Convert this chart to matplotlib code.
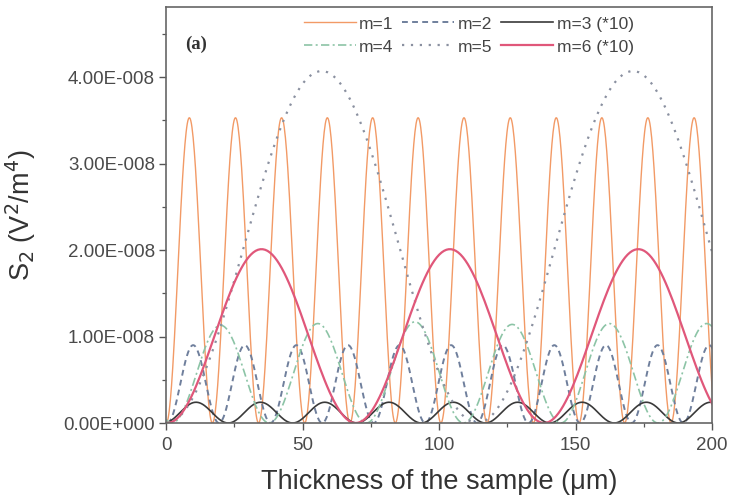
import numpy as np
import matplotlib
matplotlib.use("Agg")
import matplotlib.pyplot as plt
from matplotlib.ticker import MultipleLocator, FixedLocator, FixedFormatter

plt.rcParams['font.family'] = ['Liberation Sans', 'DejaVu Sans']

# ---- data: zero positions (x, um) and lobe peak heights (V^2/m^4)
m1_zeros = [0.1, 17.0, 33.9, 50.8, 67.4, 84.0, 100.7, 117.6, 134.6, 151.3, 168.0, 185.0, 201.9]
m1_peaks = [3.53e-8, 3.53e-8, 3.53e-8, 3.53e-8, 3.53e-8, 3.53e-8,
            3.53e-8, 3.53e-8, 3.53e-8, 3.53e-8, 3.53e-8, 3.53e-8]

m2_zeros = [0.5, 19.4, 38.3, 57.2, 76.1, 95.0, 113.9, 132.8, 151.7, 170.6, 189.5, 208.4]
m2_peaks = [0.90e-8, 0.90e-8, 0.90e-8, 0.90e-8, 0.90e-8, 0.90e-8,
            0.90e-8, 0.90e-8, 0.90e-8, 0.90e-8, 0.90e-8]

m3_zeros = [-0.8, 22.8, 46.4, 69.9, 93.5, 117.0, 140.6, 164.2, 187.7, 211.3]
m3_peaks = [0.24e-8, 0.24e-8, 0.24e-8, 0.24e-8, 0.24e-8, 0.24e-8, 0.24e-8, 0.24e-8, 0.24e-8]

m4_zeros = [-33.4, 2.2, 37.8, 73.4, 109.0, 144.6, 180.2, 215.8]
m4_peaks = [1.15e-8, 1.13e-8, 1.15e-8, 1.17e-8, 1.14e-8, 1.15e-8, 1.15e-8]

m5_zeros = [0.0, 114.0, 228.0]
m5_peaks = [4.07e-8, 4.07e-8]

m6_zeros = [0.5, 69.5, 138.5, 207.5]
m6_peaks = [2.01e-8, 2.01e-8, 2.01e-8]

labels = ["m=1", "m=2", "m=3 (*10)", "m=4", "m=5", "m=6 (*10)"]
ytick_vals = [0.0, 1e-8, 2e-8, 3e-8, 4e-8]
ytick_labels = ["0.00E+000", "1.00E-008", "2.00E-008", "3.00E-008", "4.00E-008"]
xtick_vals = [0, 50, 100, 150, 200]


def lobes(zeros, peaks, n=80):
    xs, ys = [], []
    for z0, z1, h in zip(zeros[:-1], zeros[1:], peaks):
        x = np.linspace(z0, z1, n)
        xs.append(x)
        ys.append(h * np.sin(np.pi * (x - z0) / (z1 - z0)) ** 2)
    return np.concatenate(xs), np.concatenate(ys)


fig = plt.figure(figsize=(7.3, 4.99), dpi=100)
ax = fig.add_axes([166 / 730, 1 - 423 / 499, (712 - 166) / 730, (423 - 7) / 499])

styles = [
    dict(color="#f29a66", lw=1.0, ls="-"),
    dict(color="#6f7f9c", lw=1.4, ls=(0, (3.0, 2.2))),
    dict(color="#3a3a3a", lw=1.2, ls="-"),
    dict(color="#8cc4a6", lw=1.2, ls=(0, (5, 2, 1.2, 2))),
    dict(color="#8a90a0", lw=1.6, ls=(0, (1, 3.0))),
    dict(color="#e0577a", lw=1.6, ls="-"),
]
series = [(m1_zeros, m1_peaks), (m2_zeros, m2_peaks), (m3_zeros, m3_peaks),
          (m4_zeros, m4_peaks), (m5_zeros, m5_peaks), (m6_zeros, m6_peaks)]

handles = []
for (z, p), st, lab in zip(series, styles, labels):
    x, y = lobes(z, p)
    h, = ax.plot(x, y, label=lab, **st)
    handles.append(h)

ax.set_xlim(0, 200)
ax.set_ylim(0, 4.81e-8)

ax.xaxis.set_major_locator(FixedLocator(xtick_vals))
ax.xaxis.set_minor_locator(MultipleLocator(25))
ax.yaxis.set_major_locator(FixedLocator(ytick_vals))
ax.yaxis.set_major_formatter(FixedFormatter(ytick_labels))
ax.yaxis.set_minor_locator(MultipleLocator(0.5e-8))
ax.tick_params(which="major", direction="out", length=5, width=1.0,
               labelsize=13.5, colors="#555555", labelcolor="#4a4a4a", pad=3)
ax.tick_params(axis="x", which="major", pad=5)
ax.tick_params(which="minor", direction="out", length=3, width=0.9, colors="#555555")
for s in ax.spines.values():
    s.set_color("#666666")
    s.set_linewidth(1.2)

ax.set_xlabel("Thickness of the sample (\u03bcm)", fontsize=19.5, color="#333333", labelpad=11)
ax.set_ylabel("S$_2$ (V$^2$/m$^4$)", fontsize=19.5, color="#333333", labelpad=18)

ax.text(7, 4.38e-8, "(a)", fontsize=13.5, family="Liberation Serif", fontweight="bold",
        color="#333333", va="center", ha="left")

order = [0, 3, 1, 4, 2, 5]
ax.legend([handles[i] for i in order], [labels[i] for i in order], ncol=3,
          loc="upper right", bbox_to_anchor=(0.885, 1.015), frameon=False,
          fontsize=12.5, handlelength=3.0, handletextpad=0.2, columnspacing=0.5,
          labelspacing=0.45, labelcolor="#444444")

fig.savefig("out.png", dpi=100)
